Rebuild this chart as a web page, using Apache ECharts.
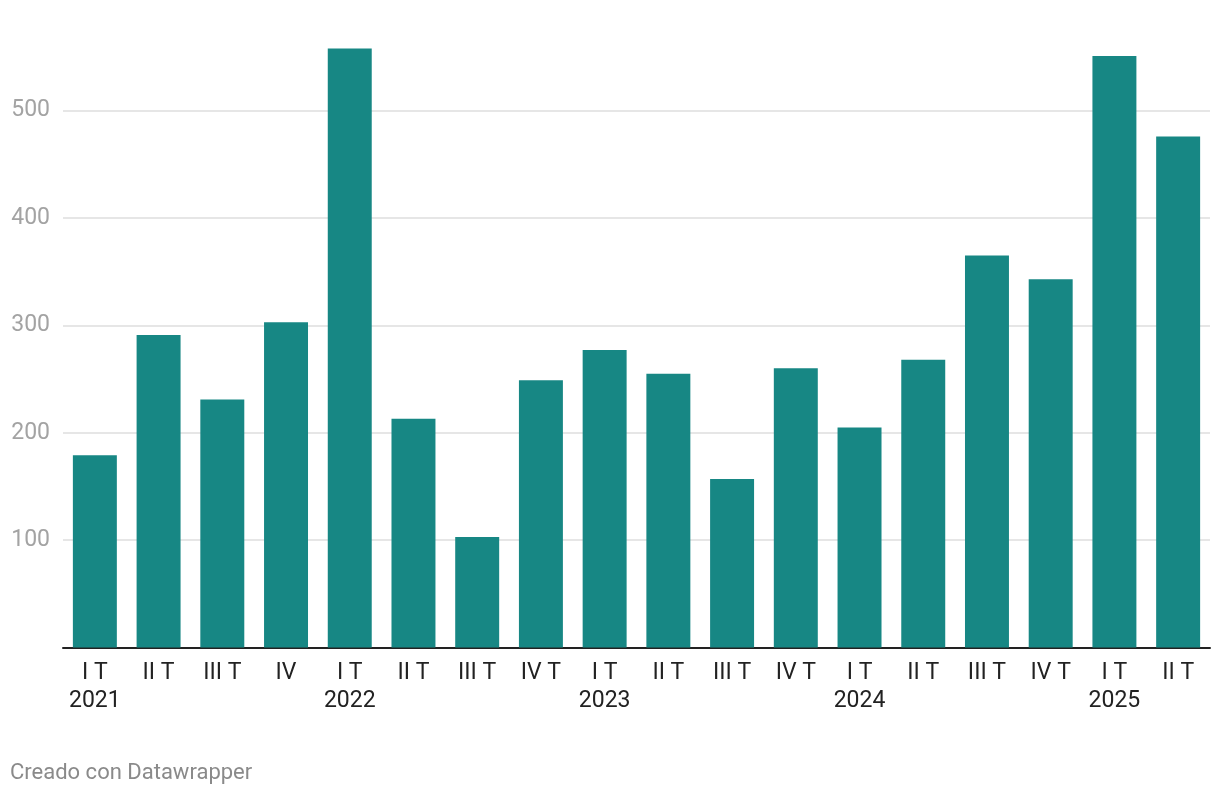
<!DOCTYPE html>
<html>
<head>
<meta charset="utf-8">
<script src="https://cdn.jsdelivr.net/npm/echarts@6/dist/echarts.min.js"></script>
<style>
html,body{margin:0;padding:0;background:#fff;}
#chart{width:1220px;height:796px;}
</style>
</head>
<body>
<div id="chart"></div>
<script>
const categories = ["I T\n2021","II T","III T","IV","I T\n2022","II T","III T","IV T","I T\n2023","II T","III T","IV T","I T\n2024","II T","III T","IV T","I T\n2025","II T"];
const values = [179, 291, 231, 303, 558, 213, 103, 249, 277, 255, 157, 260, 205, 268, 365, 343, 551, 476];
const yTicks = [0, 100, 200, 300, 400, 500, 600];
const footer = "Creado con Datawrapper";

const chart = echarts.init(document.getElementById('chart'));
chart.setOption({
  animation: false,
  grid: {left: 63, right: 10, top: 3.3, bottom: 148.5, containLabel: false},
  xAxis: {
    type: 'category',
    data: categories,
    axisLine: {show: true, lineStyle: {color: '#222', width: 2}},
    axisTick: {show: false},
    axisLabel: {
      color: '#222', fontSize: 23, fontFamily: 'Roboto', lineHeight: 28,
      margin: 12, interval: 0
    }
  },
  yAxis: {
    type: 'value',
    min: yTicks[0], max: yTicks[yTicks.length - 1], interval: 100,
    axisLine: {show: false},
    axisTick: {show: false},
    axisLabel: {
      color: '#a3a3a3', fontSize: 23, fontFamily: 'Roboto', margin: 13,
      showMinLabel: false, showMaxLabel: false
    },
    splitLine: {show: true, lineStyle: {color: ['#e6e6e6','#e6e6e6','#e6e6e6','#e6e6e6','#e6e6e6','#e6e6e6','rgba(0,0,0,0)'], width: 2}}
  },
  series: [{
    type: 'bar',
    data: values,
    barCategoryGap: '31%',
    itemStyle: {color: '#178784'}
  }],
  graphic: [{
    type: 'text', left: 10, top: 762,
    style: {text: footer, fill: '#8a8a8a', fontSize: 22, fontFamily: 'Roboto'}
  }]
});
</script>
</body>
</html>
